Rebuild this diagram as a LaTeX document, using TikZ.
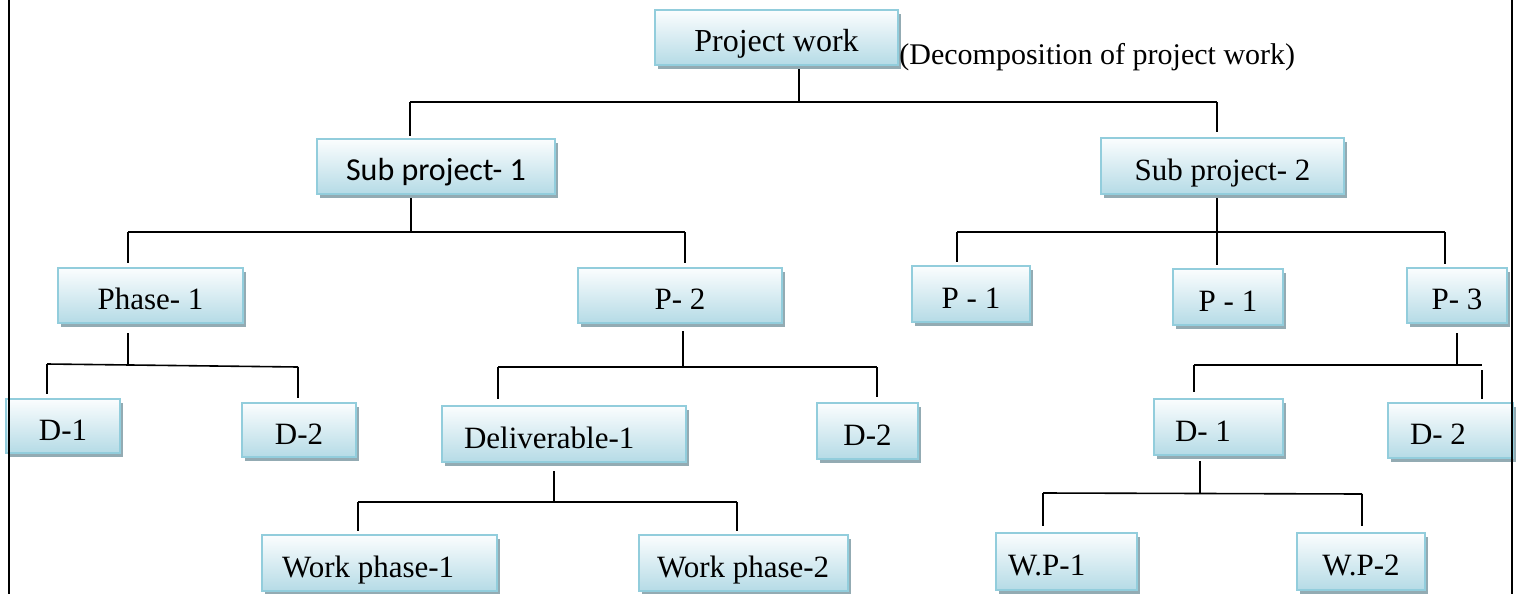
\documentclass[tikz,border=0pt]{standalone}
\usepackage{fontspec}
\setmainfont{Liberation Serif}
\newfontfamily\calibrifont{Carlito}
\usetikzlibrary{shadows}
\definecolor{boxedge}{HTML}{92CDDC}
\definecolor{boxbot}{HTML}{B5DBE6}
\definecolor{boxtop}{HTML}{FBFDFE}
\definecolor{boxshade}{HTML}{93ABB3}
% left-set label of a given width inside a box
\newcommand{\leftlabel}[2]{\makebox[#1][l]{#2}}
\begin{document}
\begin{tikzpicture}[x=0.5pt,y=-0.5pt,
  box/.style={draw=boxedge, line width=1pt, top color=boxtop, bottom color=boxbot,
    drop shadow={shadow xshift=1.6pt, shadow yshift=-2pt, fill=boxshade, opacity=1},
    inner sep=0pt, text height=14pt, text depth=0pt, font=\fontsize{15.5}{18}\selectfont},
  link/.style={draw=black, line width=0.8pt},
  frame/.style={draw=black, line width=1.2pt}]
\useasboundingbox (0,0) rectangle (1520,594);
\clip (0,0) rectangle (1520,594);

% ---- level 0
\node[box, minimum width=121.5pt, minimum height=27.5pt, font=\fontsize{16}{19}\selectfont] (pw) at (776.5,37.5) {Project work};
\node[anchor=base west, inner sep=0pt, font=\fontsize{15}{18}\selectfont] (cap) at (899,64) {(Decomposition of project work)};

% ---- level 1
\node[box, minimum width=119pt, minimum height=27.5pt, font=\calibrifont\fontsize{16}{19}\selectfont] (sp1) at (436,166.5) {Sub project- 1};
\node[box, minimum width=121.5pt, minimum height=28pt] (sp2) at (1222.5,166) {Sub project- 2};

% ---- level 2
\node[box, minimum width=92.5pt, minimum height=27.5pt] (ph1) at (150.5,295.5) {Phase- 1};
\node[box, minimum width=102pt, minimum height=27.5pt] (p2) at (680,295.5) {P- 2};
\node[box, minimum width=59pt, minimum height=28pt] (pa) at (971,294) {P - 1};
\node[box, minimum width=55pt, minimum height=28pt] (pb) at (1228,297) {P - 1};
\node[box, minimum width=50pt, minimum height=27.5pt] (p3) at (1457,295.5) {P- 3};

% ---- level 3
\node[box, minimum width=57pt, minimum height=27pt] (d1a) at (63,426) {D-1};
\node[box, minimum width=57pt, minimum height=27pt] (d2a) at (299,430) {D-2};
\node[box, minimum width=122pt, minimum height=28pt, inner xsep=11pt] (del) at (564,434) {\leftlabel{100pt}{Deliverable-1}};
\node[box, minimum width=50.5pt, minimum height=28pt] (d2b) at (867.5,431) {D-2};
\node[box, minimum width=64.5pt, minimum height=28pt, inner xsep=10.5pt] (d1c) at (1218.5,427) {\leftlabel{43.5pt}{D- 1}};
\node[box, minimum width=62.5pt, minimum height=27.5pt, inner xsep=11pt] (d2c) at (1450.5,430.5) {\leftlabel{40.5pt}{D- 2}};

% ---- level 4
\node[box, minimum width=117.5pt, minimum height=28pt, inner xsep=10pt] (wp1) at (379.5,563) {\leftlabel{97.5pt}{Work phase-1}};
\node[box, minimum width=104.5pt, minimum height=28pt, inner xsep=9pt] (wp2) at (743.5,563) {\leftlabel{86.5pt}{Work phase-2}};
\node[box, minimum width=70.5pt, minimum height=28.5pt, inner xsep=6pt] (wpa) at (1066.5,561.5) {\leftlabel{58.5pt}{W.P-1}};
\node[box, minimum width=64pt, minimum height=28.5pt] (wpb) at (1361,561.5) {W.P-2};

% ---- bus junctions
\coordinate (b0) at (799,102);  \coordinate (b0l) at (410,102);  \coordinate (b0r) at (1217,102);
\coordinate (b1) at (411,232);  \coordinate (b1l) at (128,232);  \coordinate (b1r) at (685,232);
\coordinate (b2) at (1217,232); \coordinate (b2l) at (957,232);  \coordinate (b2r) at (1445,232);
\coordinate (b3) at (128,365);  \coordinate (b3l) at (47,364);   \coordinate (b3r) at (298,367);
\coordinate (b4) at (683,367);  \coordinate (b4l) at (498,367);  \coordinate (b4r) at (877,367);
\coordinate (b5) at (1457,365); \coordinate (b5l) at (1194,365); \coordinate (b5r) at (1482,365);
\coordinate (b6) at (554,502);  \coordinate (b6l) at (358,502);  \coordinate (b6r) at (737,502);
\coordinate (b7) at (1200,493); \coordinate (b7l) at (1043,493); \coordinate (b7r) at (1362,494);

% ---- project work -> sub projects
\draw[link] ([yshift=-1.5pt]pw.south -| b0) -- (b0);
\draw[link] (b0l) -- (b0r);
\draw[link] (b0l) -- ([yshift=1pt]sp1.north -| b0l);
\draw[link] (b0r) -- ([yshift=2.5pt]sp2.north -| b0r);

% ---- sub project 1 -> phases
\draw[link] ([yshift=-1.5pt]sp1.south -| b1) -- (b1);
\draw[link] (b1l) -- (b1r);
\draw[link] (b1l) -- ([yshift=2pt]ph1.north -| b1l);
\draw[link] (b1r) -- ([yshift=2pt]p2.north -| b1r);

% ---- sub project 2 -> phases
\draw[link] ([yshift=-1.5pt]sp2.south -| b2) -- (b2);
\draw[link] (b2l) -- (b2r);
\draw[link] (b2l) -- ([yshift=1.5pt]pa.north -| b2l);
\draw[link] (b2) -- ([yshift=1.5pt]pb.north -| b2);
\draw[link] (b2r) -- ([yshift=1.5pt]p3.north -| b2r);

% ---- phase 1 -> deliverables
\draw[link] ([yshift=-4.5pt]ph1.south -| b3) -- (b3);
\draw[link] (b3l) -- (b3r);
\draw[link] (b3l) -- ([yshift=2pt]d1a.north -| b3l);
\draw[link] (b3r) -- ([yshift=2pt]d2a.north -| b3r);

% ---- P-2 -> deliverables
\draw[link] ([yshift=-3.5pt]p2.south -| b4) -- (b4);
\draw[link] (b4l) -- (b4r);
\draw[link] (b4l) -- ([yshift=3pt]del.north -| b4l);
\draw[link] (b4r) -- ([yshift=2.5pt]d2b.north -| b4r);

% ---- P-3 -> deliverables
\draw[link] ([yshift=-4.5pt]p3.south -| b5) -- (b5);
\draw[link] (b5l) -- (b5r);
\draw[link] (b5l) -- ([yshift=3pt]d1c.north -| b5l);
\draw[link] ([yshift=-2.5pt]b5r) -- ([yshift=1.5pt]d2c.north -| b5r);

% ---- deliverable 1 -> work phases
\draw[link] ([yshift=-4pt]del.south -| b6) -- (b6);
\draw[link] (b6l) -- (b6r);
\draw[link] (b6l) -- ([yshift=1.5pt]wp1.north -| b6l);
\draw[link] (b6r) -- ([yshift=1.5pt]wp2.north -| b6r);

% ---- D-1 -> work packages
\draw[link] ([yshift=-2.5pt]d1c.south -| b7) -- (b7);
\draw[link] (b7l) -- (b7r);
\draw[link] (b7l) -- ([yshift=3pt]wpa.north -| b7l);
\draw[link] (b7r) -- ([yshift=3pt]wpb.north -| b7r);

% ---- page rules at both sides
\coordinate (fl0) at (9,0);    \coordinate (fl1) at (9,594);
\coordinate (fr0) at (1512,0); \coordinate (fr1) at (1512,594);
\draw[frame] (fl0) -- (fl1);
\draw[frame] (fr0) -- (fr1);
\end{tikzpicture}
\end{document}
